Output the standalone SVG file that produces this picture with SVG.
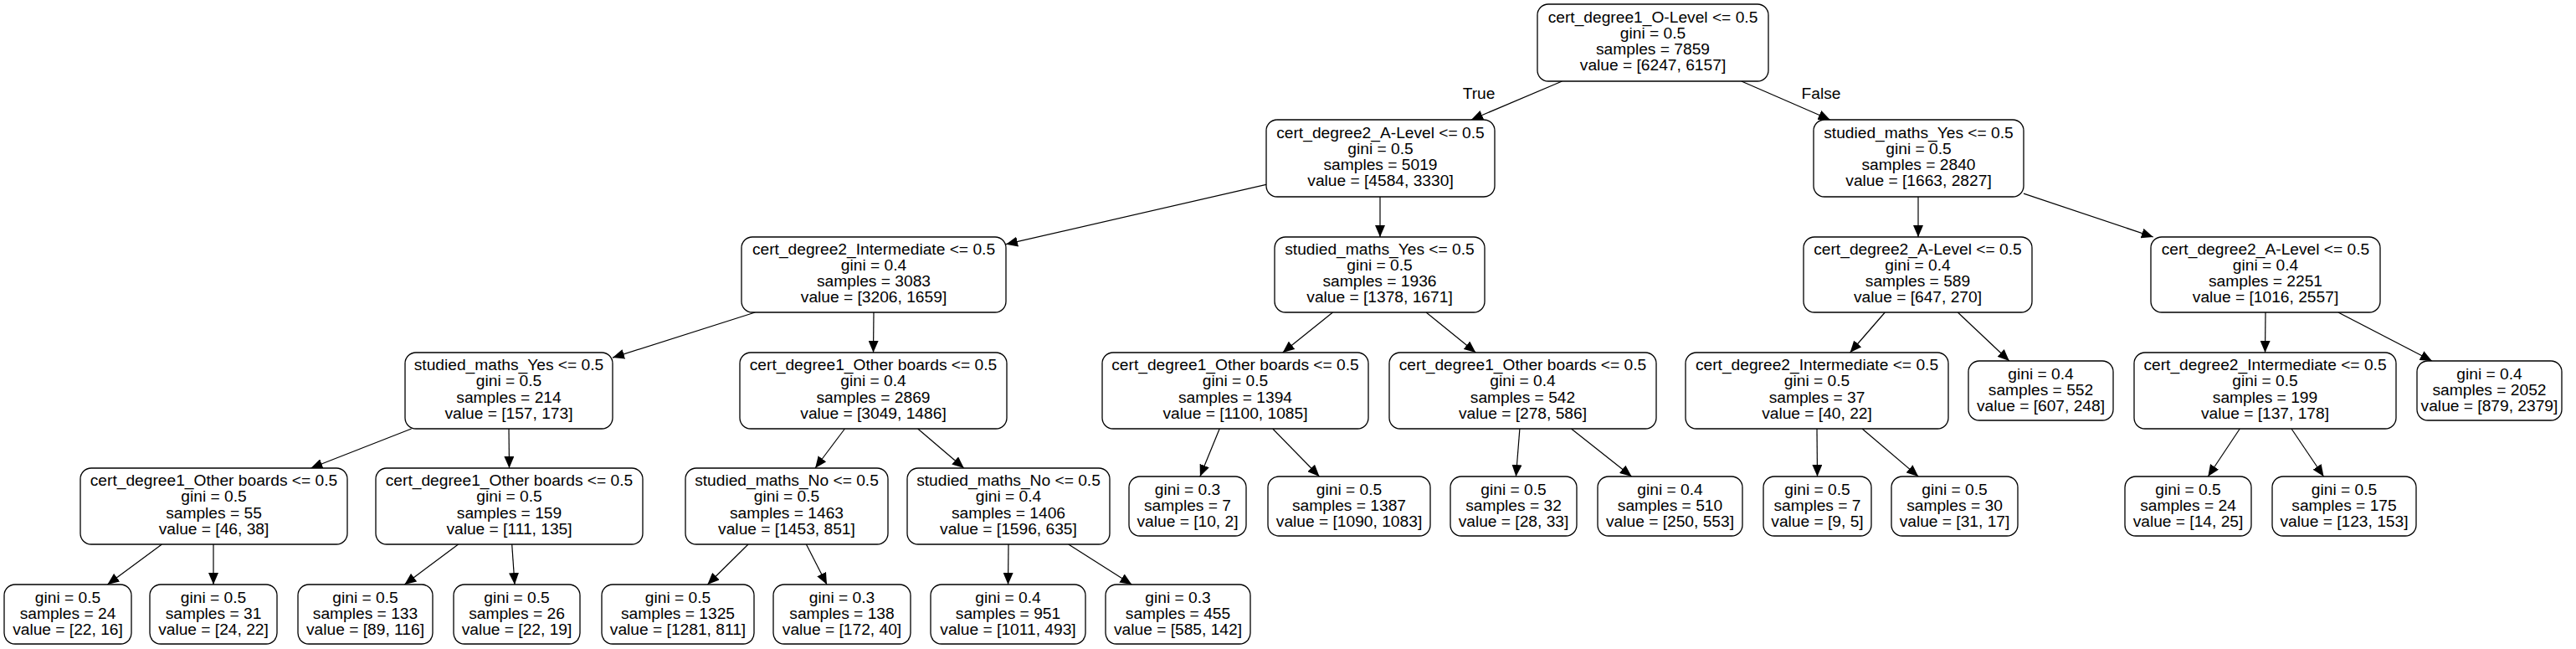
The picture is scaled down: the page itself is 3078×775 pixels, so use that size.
<svg xmlns="http://www.w3.org/2000/svg" width="3078" height="775" viewBox="0 0 3078 775">
<style>
.node rect{fill:#fff;stroke:#000;stroke-width:1.3}
text{font-family:"Liberation Sans",Arial,Helvetica,sans-serif;font-size:19.2px;text-anchor:middle;fill:#000}
.edges line{stroke:#000;stroke-width:1.2;marker-end:url(#arr)}
</style>
<defs>
<marker id="arr" markerUnits="userSpaceOnUse" viewBox="0 0 14 12" markerWidth="14" markerHeight="12" refX="14" refY="6" orient="auto"><path d="M0,0L14,6L0,12z" fill="#000"/></marker>
</defs>
<rect width="3078" height="775" fill="#fff"/>
<g class="edges" id="edges">
<line x1="1866.5" y1="97" x2="1758" y2="143"/>
<line x1="2080.8" y1="97" x2="2186.7" y2="143"/>
<line x1="1513" y1="220.3" x2="1202" y2="291.7"/>
<line x1="1649" y1="235" x2="1649" y2="283"/>
<line x1="2292" y1="235" x2="2292" y2="283"/>
<line x1="2418" y1="231.1" x2="2572.8" y2="283"/>
<line x1="902.3" y1="373" x2="732" y2="427.1"/>
<line x1="1044" y1="373" x2="1043.5" y2="421"/>
<line x1="1592.5" y1="373" x2="1532.7" y2="421"/>
<line x1="1704.1" y1="373" x2="1763.3" y2="421"/>
<line x1="2252.3" y1="373" x2="2210.6" y2="421"/>
<line x1="2339.3" y1="373" x2="2400.8" y2="431"/>
<line x1="2707" y1="373" x2="2706.5" y2="421"/>
<line x1="2793.9" y1="373" x2="2905.9" y2="431"/>
<line x1="491.6" y1="512" x2="371.4" y2="559"/>
<line x1="608" y1="512" x2="608.5" y2="559"/>
<line x1="1009.4" y1="512" x2="974.1" y2="559"/>
<line x1="1096.7" y1="512" x2="1151.8" y2="559"/>
<line x1="1457.2" y1="512" x2="1433.9" y2="569"/>
<line x1="1520.8" y1="512" x2="1576.5" y2="569"/>
<line x1="1815.9" y1="512" x2="1811.4" y2="569"/>
<line x1="1877.5" y1="512" x2="1949.6" y2="569"/>
<line x1="2171" y1="512" x2="2171.5" y2="569"/>
<line x1="2225.1" y1="512" x2="2292.2" y2="569"/>
<line x1="2676.3" y1="512" x2="2638.3" y2="569"/>
<line x1="2738" y1="512" x2="2776.5" y2="569"/>
<line x1="193.4" y1="650" x2="128.4" y2="698"/>
<line x1="255" y1="650" x2="255" y2="698"/>
<line x1="547.6" y1="650" x2="483.4" y2="698"/>
<line x1="611.7" y1="650" x2="615" y2="698"/>
<line x1="894" y1="650" x2="845.4" y2="698"/>
<line x1="963.4" y1="650" x2="988" y2="698"/>
<line x1="1205" y1="650" x2="1204.5" y2="698"/>
<line x1="1276.7" y1="650" x2="1352.3" y2="698"/>
<text x="1767" y="118">True</text>
<text x="2176" y="118">False</text>
</g>
<g class="node" id="n0"><rect x="1837" y="5" width="276" height="92" rx="13"/><text x="1975" y="26.5">cert_degree1_O-Level &lt;= 0.5</text><text x="1975" y="45.8">gini = 0.5</text><text x="1975" y="65.1">samples = 7859</text><text x="1975" y="84.4">value = [6247, 6157]</text></g>
<g class="node" id="n1"><rect x="1513" y="143" width="273" height="92" rx="13"/><text x="1649.5" y="164.5">cert_degree2_A-Level &lt;= 0.5</text><text x="1649.5" y="183.8">gini = 0.5</text><text x="1649.5" y="203.1">samples = 5019</text><text x="1649.5" y="222.4">value = [4584, 3330]</text></g>
<g class="node" id="n2"><rect x="2167" y="143" width="251" height="92" rx="13"/><text x="2292.5" y="164.5">studied_maths_Yes &lt;= 0.5</text><text x="2292.5" y="183.8">gini = 0.5</text><text x="2292.5" y="203.1">samples = 2840</text><text x="2292.5" y="222.4">value = [1663, 2827]</text></g>
<g class="node" id="n3"><rect x="886" y="283" width="316" height="90" rx="13"/><text x="1044" y="303.5">cert_degree2_Intermediate &lt;= 0.5</text><text x="1044" y="322.8">gini = 0.4</text><text x="1044" y="342.1">samples = 3083</text><text x="1044" y="361.4">value = [3206, 1659]</text></g>
<g class="node" id="n4"><rect x="1523" y="283" width="251" height="90" rx="13"/><text x="1648.5" y="303.5">studied_maths_Yes &lt;= 0.5</text><text x="1648.5" y="322.8">gini = 0.5</text><text x="1648.5" y="342.1">samples = 1936</text><text x="1648.5" y="361.4">value = [1378, 1671]</text></g>
<g class="node" id="n5"><rect x="2155" y="283" width="273" height="90" rx="13"/><text x="2291.5" y="303.5">cert_degree2_A-Level &lt;= 0.5</text><text x="2291.5" y="322.8">gini = 0.4</text><text x="2291.5" y="342.1">samples = 589</text><text x="2291.5" y="361.4">value = [647, 270]</text></g>
<g class="node" id="n6"><rect x="2570" y="283" width="274" height="90" rx="13"/><text x="2707" y="303.5">cert_degree2_A-Level &lt;= 0.5</text><text x="2707" y="322.8">gini = 0.4</text><text x="2707" y="342.1">samples = 2251</text><text x="2707" y="361.4">value = [1016, 2557]</text></g>
<g class="node" id="n7"><rect x="484" y="421" width="248" height="91" rx="13"/><text x="608" y="442">studied_maths_Yes &lt;= 0.5</text><text x="608" y="461.3">gini = 0.5</text><text x="608" y="480.6">samples = 214</text><text x="608" y="499.9">value = [157, 173]</text></g>
<g class="node" id="n8"><rect x="884" y="421" width="319" height="91" rx="13"/><text x="1043.5" y="442">cert_degree1_Other boards &lt;= 0.5</text><text x="1043.5" y="461.3">gini = 0.4</text><text x="1043.5" y="480.6">samples = 2869</text><text x="1043.5" y="499.9">value = [3049, 1486]</text></g>
<g class="node" id="n9"><rect x="1317" y="421" width="318" height="91" rx="13"/><text x="1476" y="442">cert_degree1_Other boards &lt;= 0.5</text><text x="1476" y="461.3">gini = 0.5</text><text x="1476" y="480.6">samples = 1394</text><text x="1476" y="499.9">value = [1100, 1085]</text></g>
<g class="node" id="n10"><rect x="1660" y="421" width="319" height="91" rx="13"/><text x="1819.5" y="442">cert_degree1_Other boards &lt;= 0.5</text><text x="1819.5" y="461.3">gini = 0.4</text><text x="1819.5" y="480.6">samples = 542</text><text x="1819.5" y="499.9">value = [278, 586]</text></g>
<g class="node" id="n11"><rect x="2014" y="421" width="314" height="91" rx="13"/><text x="2171" y="442">cert_degree2_Intermediate &lt;= 0.5</text><text x="2171" y="461.3">gini = 0.5</text><text x="2171" y="480.6">samples = 37</text><text x="2171" y="499.9">value = [40, 22]</text></g>
<g class="node" id="n12"><rect x="2352" y="431" width="173" height="71" rx="13"/><text x="2438.5" y="452.7">gini = 0.4</text><text x="2438.5" y="472">samples = 552</text><text x="2438.5" y="491.3">value = [607, 248]</text></g>
<g class="node" id="n13"><rect x="2550" y="421" width="313" height="91" rx="13"/><text x="2706.5" y="442">cert_degree2_Intermediate &lt;= 0.5</text><text x="2706.5" y="461.3">gini = 0.5</text><text x="2706.5" y="480.6">samples = 199</text><text x="2706.5" y="499.9">value = [137, 178]</text></g>
<g class="node" id="n14"><rect x="2888" y="431" width="173" height="71" rx="13"/><text x="2974.5" y="452.7">gini = 0.4</text><text x="2974.5" y="472">samples = 2052</text><text x="2974.5" y="491.3">value = [879, 2379]</text></g>
<g class="node" id="n15"><rect x="96" y="559" width="319" height="91" rx="13"/><text x="255.5" y="580">cert_degree1_Other boards &lt;= 0.5</text><text x="255.5" y="599.3">gini = 0.5</text><text x="255.5" y="618.6">samples = 55</text><text x="255.5" y="637.9">value = [46, 38]</text></g>
<g class="node" id="n16"><rect x="449" y="559" width="319" height="91" rx="13"/><text x="608.5" y="580">cert_degree1_Other boards &lt;= 0.5</text><text x="608.5" y="599.3">gini = 0.5</text><text x="608.5" y="618.6">samples = 159</text><text x="608.5" y="637.9">value = [111, 135]</text></g>
<g class="node" id="n17"><rect x="819" y="559" width="242" height="91" rx="13"/><text x="940" y="580">studied_maths_No &lt;= 0.5</text><text x="940" y="599.3">gini = 0.5</text><text x="940" y="618.6">samples = 1463</text><text x="940" y="637.9">value = [1453, 851]</text></g>
<g class="node" id="n18"><rect x="1084" y="559" width="242" height="91" rx="13"/><text x="1205" y="580">studied_maths_No &lt;= 0.5</text><text x="1205" y="599.3">gini = 0.4</text><text x="1205" y="618.6">samples = 1406</text><text x="1205" y="637.9">value = [1596, 635]</text></g>
<g class="node" id="n19"><rect x="1349" y="569" width="140" height="71" rx="13"/><text x="1419" y="590.7">gini = 0.3</text><text x="1419" y="610">samples = 7</text><text x="1419" y="629.3">value = [10, 2]</text></g>
<g class="node" id="n20"><rect x="1515" y="569" width="194" height="71" rx="13"/><text x="1612" y="590.7">gini = 0.5</text><text x="1612" y="610">samples = 1387</text><text x="1612" y="629.3">value = [1090, 1083]</text></g>
<g class="node" id="n21"><rect x="1733" y="569" width="151" height="71" rx="13"/><text x="1808.5" y="590.7">gini = 0.5</text><text x="1808.5" y="610">samples = 32</text><text x="1808.5" y="629.3">value = [28, 33]</text></g>
<g class="node" id="n22"><rect x="1909" y="569" width="173" height="71" rx="13"/><text x="1995.5" y="590.7">gini = 0.4</text><text x="1995.5" y="610">samples = 510</text><text x="1995.5" y="629.3">value = [250, 553]</text></g>
<g class="node" id="n23"><rect x="2107" y="569" width="129" height="71" rx="13"/><text x="2171.5" y="590.7">gini = 0.5</text><text x="2171.5" y="610">samples = 7</text><text x="2171.5" y="629.3">value = [9, 5]</text></g>
<g class="node" id="n24"><rect x="2260" y="569" width="151" height="71" rx="13"/><text x="2335.5" y="590.7">gini = 0.5</text><text x="2335.5" y="610">samples = 30</text><text x="2335.5" y="629.3">value = [31, 17]</text></g>
<g class="node" id="n25"><rect x="2539" y="569" width="151" height="71" rx="13"/><text x="2614.5" y="590.7">gini = 0.5</text><text x="2614.5" y="610">samples = 24</text><text x="2614.5" y="629.3">value = [14, 25]</text></g>
<g class="node" id="n26"><rect x="2715" y="569" width="172" height="71" rx="13"/><text x="2801" y="590.7">gini = 0.5</text><text x="2801" y="610">samples = 175</text><text x="2801" y="629.3">value = [123, 153]</text></g>
<g class="node" id="n27"><rect x="5" y="698" width="152" height="71" rx="13"/><text x="81" y="719.7">gini = 0.5</text><text x="81" y="739">samples = 24</text><text x="81" y="758.3">value = [22, 16]</text></g>
<g class="node" id="n28"><rect x="179" y="698" width="152" height="71" rx="13"/><text x="255" y="719.7">gini = 0.5</text><text x="255" y="739">samples = 31</text><text x="255" y="758.3">value = [24, 22]</text></g>
<g class="node" id="n29"><rect x="356" y="698" width="161" height="71" rx="13"/><text x="436.5" y="719.7">gini = 0.5</text><text x="436.5" y="739">samples = 133</text><text x="436.5" y="758.3">value = [89, 116]</text></g>
<g class="node" id="n30"><rect x="542" y="698" width="151" height="71" rx="13"/><text x="617.5" y="719.7">gini = 0.5</text><text x="617.5" y="739">samples = 26</text><text x="617.5" y="758.3">value = [22, 19]</text></g>
<g class="node" id="n31"><rect x="719" y="698" width="182" height="71" rx="13"/><text x="810" y="719.7">gini = 0.5</text><text x="810" y="739">samples = 1325</text><text x="810" y="758.3">value = [1281, 811]</text></g>
<g class="node" id="n32"><rect x="924" y="698" width="164" height="71" rx="13"/><text x="1006" y="719.7">gini = 0.3</text><text x="1006" y="739">samples = 138</text><text x="1006" y="758.3">value = [172, 40]</text></g>
<g class="node" id="n33"><rect x="1112" y="698" width="185" height="71" rx="13"/><text x="1204.5" y="719.7">gini = 0.4</text><text x="1204.5" y="739">samples = 951</text><text x="1204.5" y="758.3">value = [1011, 493]</text></g>
<g class="node" id="n34"><rect x="1321" y="698" width="173" height="71" rx="13"/><text x="1407.5" y="719.7">gini = 0.3</text><text x="1407.5" y="739">samples = 455</text><text x="1407.5" y="758.3">value = [585, 142]</text></g>
</svg>
